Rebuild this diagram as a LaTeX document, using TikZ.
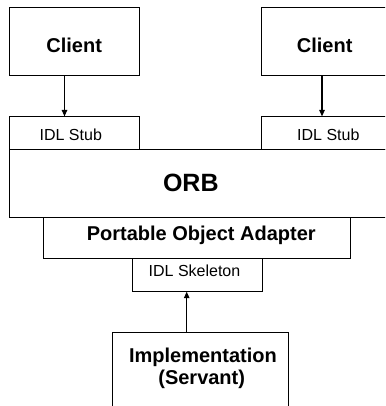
\documentclass[tikz,border=0pt]{standalone}
\usepackage{fontspec}
\setmainfont{Liberation Sans}
\usetikzlibrary{arrows.meta}
\begin{document}
\begin{tikzpicture}[x=1pt,y=-1pt,
  box/.style={draw, line width=1pt, inner sep=0pt, anchor=north west},
  arr/.style={line width=1.1pt, -{Triangle[length=6.5pt,width=5.5pt]}},
  big/.style={font=\bfseries\fontsize{20}{24}\selectfont, anchor=base, inner sep=0pt},
  small/.style={font=\fontsize{16}{19}\selectfont, anchor=base, inner sep=0pt},
  huge/.style={font=\bfseries\fontsize{25}{30}\selectfont, anchor=base, inner sep=0pt}]
\useasboundingbox (0,0) rectangle (385,406);
\clip (0,0) rectangle (385,406);
% boxes
\node[box, minimum width=130pt, minimum height=67.7pt] (c1) at (9.3,7.3) {};
\node[box, minimum width=140pt, minimum height=67.7pt] (c2) at (261,7.3) {};
\node[box, minimum width=130pt, minimum height=32.6pt] (s1) at (9.3,116.4) {};
\node[box, minimum width=140pt, minimum height=32.6pt] (s2) at (261,116.4) {};
\node[box, minimum width=392pt, minimum height=68pt] (orb) at (9.3,149) {};
\node[box, minimum width=306.7pt, minimum height=41pt] (poa) at (43.3,217) {};
\node[box, minimum width=129.4pt, minimum height=32.7pt] (sk) at (132.3,258) {};
\node[box, minimum width=176.6pt, minimum height=90pt] (impl) at (111.7,331.7) {};
% labels
\node[big] (tc1) at (74.2,52.7) {Client};
\node[big] (tc2) at (324.7,52.7) {Client};
\node[small] (ts1) at (70.8,141) {IDL Stub};
\node[small] (ts2) at (328.3,141) {IDL Stub};
\node[huge] (torb) at (190.8,191.7) {ORB};
\node[big] (tpoa) at (201.3,240) {Portable Object Adapter};
\node[small] (tsk) at (194.5,276.7) {IDL Skeleton};
\node[big] (timpl) at (203,362.7) {Implementation};
\node[big] (tserv) at (201.7,384) {(Servant)};
% connectors
\draw[arr] ([xshift=55.2pt]c1.south west) -- ([xshift=55.2pt]s1.north west);
\draw[arr] ([xshift=61pt]c2.south west) -- ([xshift=61pt]s2.north west);
\draw[arr] ([xshift=75pt]impl.north west) -- ([xshift=54.4pt]sk.south west);
\end{tikzpicture}
\end{document}
